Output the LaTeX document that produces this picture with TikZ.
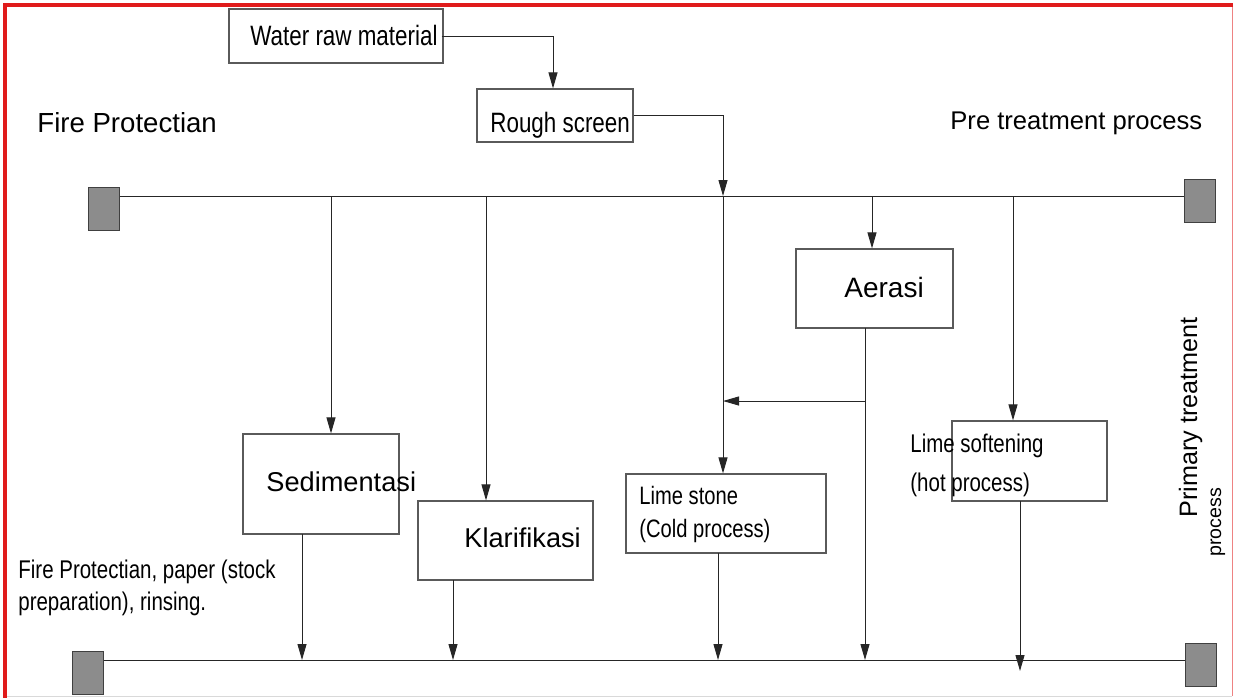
\documentclass[tikz,border=0pt]{standalone}
\usepackage{fontspec}
\setmainfont{Liberation Sans}
\newfontfamily\narrowsf[FakeStretch=0.8]{Liberation Sans}
\usetikzlibrary{arrows.meta, positioning}
\definecolor{frameRed}{HTML}{E01B1B}
\definecolor{padGray}{HTML}{8C8C8C}
\definecolor{lineGray}{HTML}{5A5A5A}

\begin{document}
\begin{tikzpicture}[x=0.5pt, y=-0.5pt,
    box/.style={rectangle, draw=lineGray, line width=0.6pt, inner sep=0pt},
    pad/.style={rectangle, draw=black!75, fill=padGray, line width=0.5pt,
                minimum width=15.5pt, minimum height=21.5pt, inner sep=0pt},
    wire/.style={draw=black!85, line width=0.5pt},
    flow/.style={wire, -{Triangle[length=8pt, width=4.5pt]}},
    lbl/.style={inner sep=0pt, anchor=base west, font=\fontsize{#1pt}{#1pt}\selectfont},
    nlbl/.style={inner sep=0pt, anchor=base west, font=\narrowsf\fontsize{#1pt}{#1pt}\selectfont},
  ]
    \useasboundingbox (0,0) rectangle (1237,698);

    % frame
    \draw[frameRed!55, line width=0.5pt] (1232,5) -- (1232,696);
    \draw[black!15, line width=0.5pt] (5,696) -- (1232,696);
    \draw[frameRed, line width=1.6pt] (1233,5) -- (5,5) -- (5,698);

    % process boxes
    \node[box, minimum width=107pt, minimum height=27pt]    (water)     at (336,36)      {};
    \node[box, minimum width=78pt, minimum height=26.5pt]   (rough)     at (555,115.5)   {};
    \node[box, minimum width=78.5pt, minimum height=39.5pt] (aerasi)    at (874.5,288.5) {};
    \node[box, minimum width=78pt, minimum height=50pt]     (sedim)     at (321,484)     {};
    \node[box, minimum width=87.5pt, minimum height=39.5pt] (klar)      at (505.5,540.5) {};
    \node[box, minimum width=100pt, minimum height=39.5pt]  (limestone) at (726,513.5)   {};
    \node[box, minimum width=77.5pt, minimum height=40pt]   (limesoft)  at (1029.5,461)  {};

    % end pads
    \node[pad] (padTL) at (104,208.5)   {};
    \node[pad] (padTR) at (1199.5,200.5) {};
    \node[pad] (padBL) at (88,673)      {};
    \node[pad] (padBR) at (1200.5,665)  {};

    % headers and pipes
    \coordinate (busT) at (0,196);
    \coordinate (busB) at (0,660);
    \draw[wire] (padTL.east |- busT) -- (padTR.west |- busT);
    \draw[wire] (padBL.east |- busB) -- (padBR.west |- busB);

    \coordinate (split)   at (723,196);
    \coordinate (tapSed)  at (331,196);
    \coordinate (tapKlar) at (486,196);
    \coordinate (tapAer)  at (872,196);
    \coordinate (tapSoft) at (1013,196);
    \coordinate (outSed)  at (302,534);
    \coordinate (outKlar) at (453,580);
    \coordinate (outLime) at (718,553);
    \coordinate (outAer)  at (865,328);
    \coordinate (mix)     at (865,401);
    \coordinate (outSoft) at (1020,501);
    \coordinate (endSoft) at (1020,671);

    \draw[flow] ([xshift=-1pt]water.east) -| ([xshift=-1pt]rough.north);
    \draw[flow] (rough.east) -| (split);
    \draw[flow] (split) -- (split |- limestone.north);
    \draw[flow] (tapSed) -- (tapSed |- sedim.north);
    \draw[flow] (tapKlar) -- (tapKlar |- klar.north);
    \draw[flow] (tapAer) -- (tapAer |- aerasi.north);
    \draw[flow] (tapSoft) -- (tapSoft |- limesoft.north);
    \draw[flow] (mix) -- (split |- mix);

    \draw[flow] (outSed) -- (outSed |- busB);
    \draw[flow] (outKlar) -- (outKlar |- busB);
    \draw[flow] (outLime) -- (outLime |- busB);
    \draw[flow] (outAer) -- (outAer |- busB);
    \draw[flow] (outSoft) -- (endSoft);

    % texts
    \node[nlbl=14] (waterTxt) at (250,45)  {Water raw material};
    \node[nlbl=14] (roughTxt) at (490,132) {Rough screen};
    \node[lbl=13.8] (fireTxt) at (37,132)  {Fire Protectian};
    \node[lbl=12.8] (preTxt)  at (950,129) {Pre treatment process};
    \node[lbl=14]   (aerTxt)  at (844,297) {Aerasi};
    \node[lbl=13.6] (sedTxt)  at (266,491) {Sedimentasi};
    \node[lbl=13.6] (klarTxt) at (464,547) {Klarifikasi};
    \node[nlbl=12.6] (limeTxtA) at (639,504) {Lime stone};
    \node[nlbl=12.6] (limeTxtB) at (639,537) {(Cold process)};
    \node[nlbl=12.8] (softTxtA) at (910,452) {Lime softening};
    \node[nlbl=12.8] (softTxtB) at (910,491) {(hot process)};
    \node[nlbl=12.8] (useTxtA)  at (18,578)  {Fire Protectian, paper (stock};
    \node[nlbl=12.8] (useTxtB)  at (18,610)  {preparation), rinsing.};
    \node[lbl=12.6, rotate=90] (primTxtA) at (1197,518) {Primary treatment};
    \node[lbl=9.8, rotate=90]  (primTxtB) at (1221,557) {process};
  \end{tikzpicture}
\end{document}
